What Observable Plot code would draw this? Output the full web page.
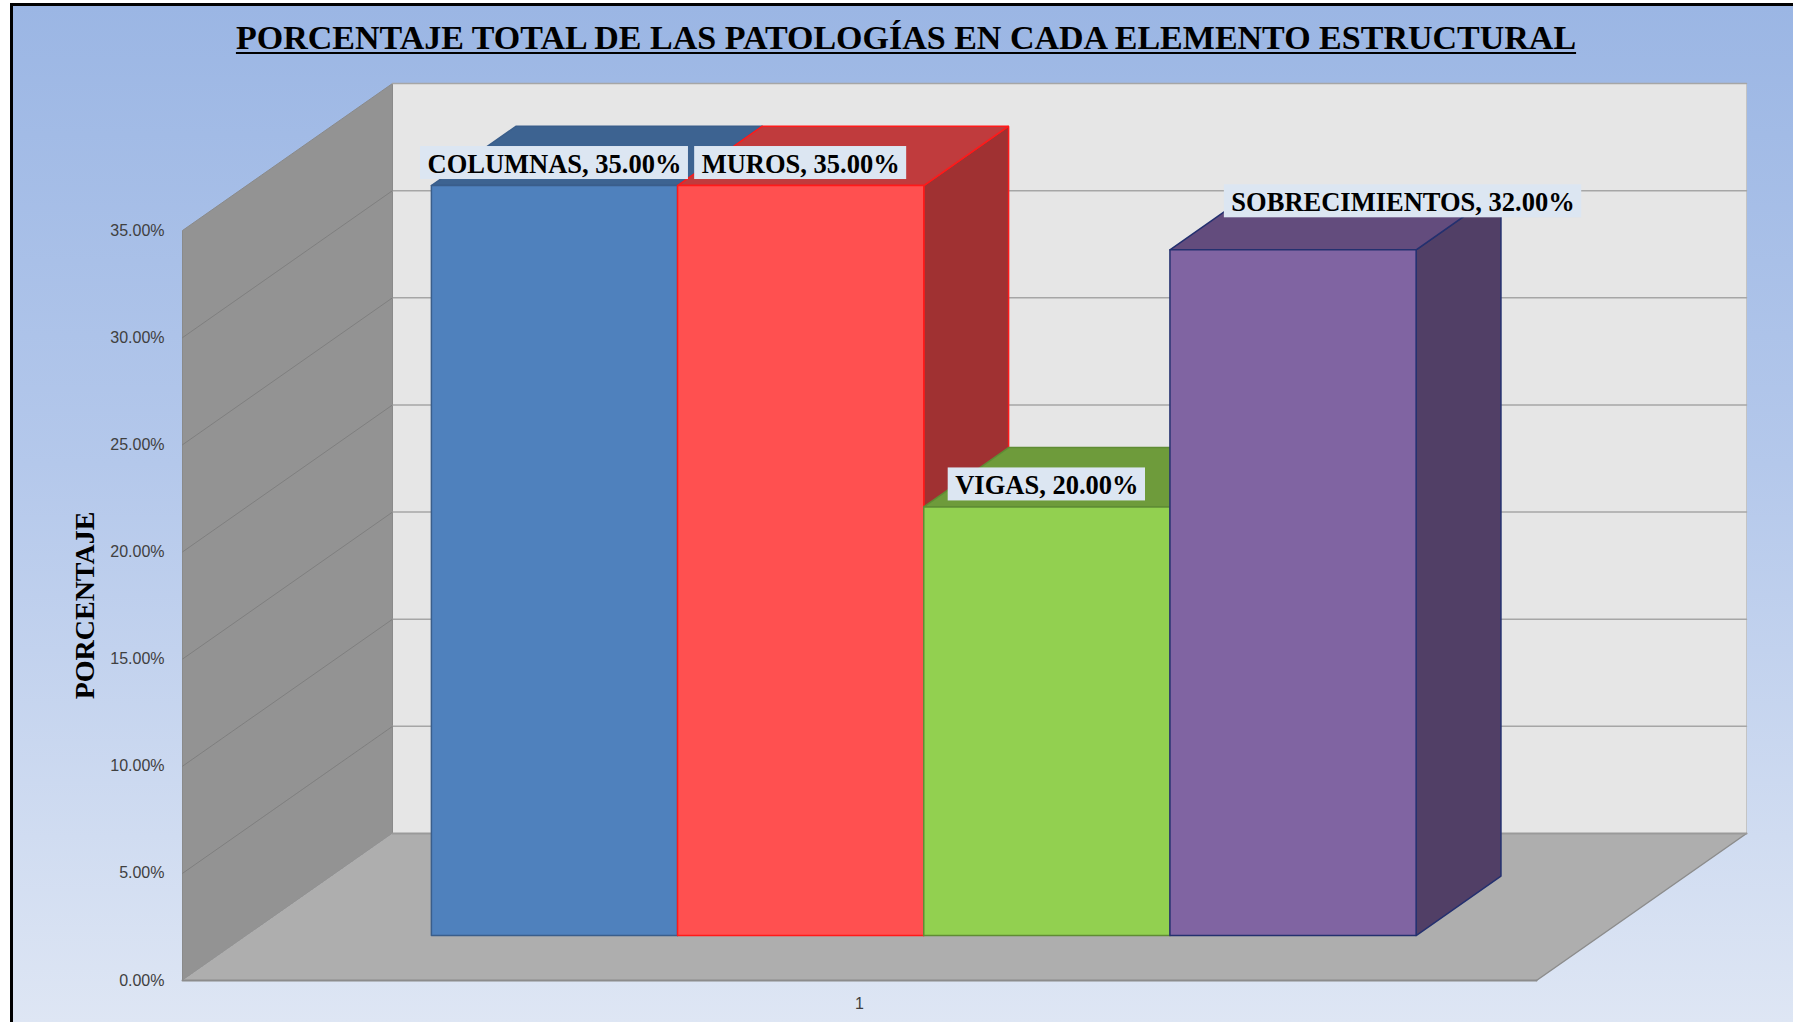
<!DOCTYPE html>
<html>
<head>
<meta charset="utf-8">
<script src="https://cdn.jsdelivr.net/npm/d3@7"></script>
<script src="https://cdn.jsdelivr.net/npm/@observablehq/plot@0.6"></script>
<style>
  html, body { margin: 0; padding: 0; background: #ffffff; }
  #page { position: relative; width: 1793px; height: 1022px; overflow: hidden; background: #ffffff; }
  #bg { position: absolute; left: 10px; top: 3px; right: 0; bottom: 0;
        border-left: 3px solid #000; border-top: 3px solid #000;
        background: linear-gradient(180deg, #9bb6e4 0%, #b4c8eb 45%, #dee6f4 100%); }
  #title { position: absolute; left: 0; top: 18px; width: 1812px; text-align: center;
           font: bold 34px "Liberation Serif", "Times New Roman", serif; line-height: 40px;
           text-decoration: underline; text-decoration-thickness: 2px; text-underline-offset: 3px; color: #000; }
  #chart { position: absolute; left: 0; top: 70px; }
</style>
</head>
<body>
<div id="page">
  <div id="bg"></div>
  <div id="title">PORCENTAJE TOTAL DE LAS PATOLOGÍAS EN CADA ELEMENTO ESTRUCTURAL</div>
  <div id="chart"></div>
</div>
<script>
// ---- data ----
const categories = ["COLUMNAS", "MUROS", "VIGAS", "SOBRECIMIENTOS"];
const values = [35, 35, 20, 32];
const yTicks = [0, 5, 10, 15, 20, 25, 30, 35];
const xTickLabels = ["1"];
const yTitle = "PORCENTAJE";

// ---- styles ----
const frontColors = ["#4f81bd", "#ff5050", "#92d050", "#8064a2"];
const topColors   = ["#3d6391", "#c03b3d", "#6e9b3b", "#634c7d"];
const sideColors  = ["#375a84", "#a03132", "#5c8232", "#513f66"];
const edgeColors  = ["#3a5e8b", "#ff1a1a", "#5f8c34", "#24306f"];

// ---- layout (3D oblique projection) ----
const W = 1793, H = 952;
const mL = 182, mR = 257, mT = 160, mB = 42;
const X_MIN = -0.75, X_MAX = 4.75, Y_MAX = 35;
const DX = 0.853, DY = 6.86;      // full depth offset in x units / percent
const T0 = 0.306, T1 = 0.71;      // bar front / back depth
const pxPerX = (W - mL - mR) / (X_MAX - X_MIN);
const pxPerY = (H - mT - mB) / Y_MAX;
const labelNudgePx = [[0, 0], [0, 0], [0, 0], [110, 26]];
const labelFont = "bold 26.5px 'Liberation Serif'";
const serif = "'Liberation Serif', 'Times New Roman', serif";
const sans = "'Liberation Sans', Arial, sans-serif";

const P = (x, y, t) => ({x: x + t * DX, y: y + t * DY});
const face = (pts, fill, stroke, sw = 1) =>
  Plot.line([...pts, pts[0]], {x: "x", y: "y", fill, stroke, strokeWidth: sw, strokeLinejoin: "miter"});
const seg = (a, b, stroke, sw) => Plot.line([a, b], {x: "x", y: "y", stroke, strokeWidth: sw});

const marks = [];
// back wall
marks.push(face([P(X_MIN, 0, 1), P(X_MAX, 0, 1), P(X_MAX, Y_MAX, 1), P(X_MIN, Y_MAX, 1)], "#e6e6e6", "#c4c4c4", 1));
// left wall
marks.push(face([P(X_MIN, 0, 0), P(X_MIN, 0, 1), P(X_MIN, Y_MAX, 1), P(X_MIN, Y_MAX, 0)], "#939393", "#8a8a8a", 1));
// floor
marks.push(face([P(X_MIN, 0, 0), P(X_MAX, 0, 0), P(X_MAX, 0, 1), P(X_MIN, 0, 1)], "#aeaeae", "none"));
marks.push(seg(P(X_MIN, 0, 0), P(X_MAX, 0, 0), "#8c8c8c", 2));
marks.push(seg(P(X_MAX, 0, 0), P(X_MAX, 0, 1), "#8c8c8c", 1.5));
marks.push(seg(P(X_MIN, 0, 1), P(X_MAX, 0, 1), "#9a9a9a", 2));
// gridlines
for (const v of yTicks.filter(d => d > 0)) {
  marks.push(seg(P(X_MIN, v, 1), P(X_MAX, v, 1), "#a6a6a6", 1.5));
  if (v < Y_MAX) marks.push(seg(P(X_MIN, v, 0), P(X_MIN, v, 1), "#7f7f7f", 1));
}
// bars
values.forEach((v, i) => {
  const x0 = i, x1 = i + 1;
  marks.push(face([P(x1, 0, T0), P(x1, 0, T1), P(x1, v, T1), P(x1, v, T0)], sideColors[i], edgeColors[i], 1.5));
  marks.push(face([P(x0, v, T0), P(x1, v, T0), P(x1, v, T1), P(x0, v, T1)], topColors[i], edgeColors[i], 1.5));
  marks.push(face([P(x0, 0, T0), P(x1, 0, T0), P(x1, v, T0), P(x0, v, T0)], frontColors[i], edgeColors[i], 1.5));
});

// data labels with boxes
const ctx = document.createElement("canvas").getContext("2d");
ctx.font = labelFont;
const labels = categories.map((c, i) => {
  const text = `${c}, ${values[i].toFixed(2)}%`;
  const wPx = ctx.measureText(text).width + 14;
  const base = P(i + 0.5, values[i], T0);
  const cx = base.x + labelNudgePx[i][0] / pxPerX;
  const y1 = base.y + (6 + labelNudgePx[i][1]) / pxPerY;
  const y2 = y1 + 33 / pxPerY;
  return {text, x1: cx - wPx / 2 / pxPerX, x2: cx + wPx / 2 / pxPerX, y1, y2, cx, cy: (y1 + y2) / 2};
});
marks.push(Plot.rect(labels, {x1: "x1", x2: "x2", y1: "y1", y2: "y2", fill: "#dce6f2"}));
marks.push(Plot.text(labels, {x: "cx", y: "cy", text: "text", fill: "#000", fontSize: 26.5, fontWeight: "bold",
  fontFamily: serif, textAnchor: "middle", dy: 1}));

// x category label
marks.push(Plot.text(xTickLabels, {x: (X_MIN + X_MAX) / 2, y: 0, text: d => d, dy: 23,
  fontSize: 16, fontFamily: sans, fill: "#404040"}));
// y axis title
marks.push(Plot.text([yTitle], {frameAnchor: "left", text: d => d, dx: -97, rotate: -90, textAnchor: "middle",
  fontSize: 28, fontWeight: "bold", fontFamily: serif, fill: "#000"}));

const chart = Plot.plot({
  width: W, height: H,
  marginLeft: mL, marginRight: mR, marginTop: mT, marginBottom: mB,
  style: {background: "transparent", fontFamily: sans, fontSize: "16px", color: "#404040", overflow: "visible"},
  x: {domain: [X_MIN, X_MAX], axis: null},
  y: {domain: [0, Y_MAX], ticks: yTicks, tickFormat: d => d.toFixed(2) + "%", tickSize: 0, tickPadding: 18, label: null},
  marks
});
document.getElementById("chart").appendChild(chart);
</script>
</body>
</html>
